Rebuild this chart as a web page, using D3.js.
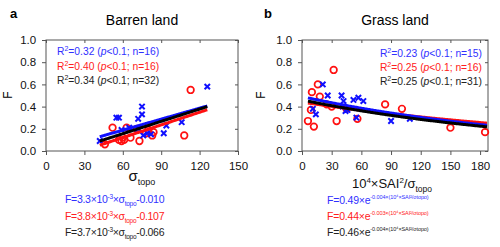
<!DOCTYPE html>
<html><head><meta charset="utf-8">
<script src="https://cdn.jsdelivr.net/npm/d3@7"></script>
<style>body{margin:0;background:#fff}text{font-family:"Liberation Sans",Arial,sans-serif}</style>
</head><body><svg id="c" width="500" height="247"></svg>
<script>
// ---- data ----
const yTicks = [0, 0.2, 0.4, 0.6, 0.8, 1.0];
const aTicks = [0, 30, 60, 90, 120, 150];
const bTicks = [0, 30, 60, 90, 120, 150, 180];

const aBlueX = [42, 55, 57, 59, 65, 72, 72, 75, 75, 76, 79, 82, 92, 94, 106, 126];
const aBlueF = [0.09, 0.30, 0.30, 0.19, 0.21, 0.29, 0.20, 0.40, 0.33, 0.14, 0.16, 0.15, 0.16, 0.23, 0.26, 0.58];
const aRedX = [46, 52, 57, 59, 60, 61, 63, 66, 71, 73, 78, 80, 83, 84, 108, 113];
const aRedF = [0.06, 0.21, 0.10, 0.09, 0.12, 0.10, 0.21, 0.12, 0.20, 0.09, 0.16, 0.19, 0.14, 0.17, 0.14, 0.55];

const bBlueX = [11, 14, 21, 26, 40, 41, 42, 44, 46, 52, 55, 57, 62, 90, 109];
const bBlueF = [0.38, 0.33, 0.60, 0.50, 0.50, 0.40, 0.45, 0.36, 0.37, 0.46, 0.30, 0.48, 0.45, 0.27, 0.29];
const bRedX = [6, 9, 10, 12, 16, 18, 25, 30, 32, 35, 45, 56, 84, 101, 150, 185];
const bRedF = [0.27, 0.37, 0.53, 0.22, 0.60, 0.49, 0.42, 0.40, 0.73, 0.27, 0.38, 0.29, 0.42, 0.38, 0.21, 0.17];

// fits: a linear (slope, intercept), b exponential (a, k)
const aFitSlope = [0.0033, 0.0038, 0.0037];
const aFitInt = [-0.010, -0.107, -0.066];
const bFitA = [0.49, 0.44, 0.46];
const bFitK = [-0.004, -0.003, -0.004];
const fitNames = ["blue", "red", "black"];
const aR2 = ["0.32", "0.40", "0.34"], aN = [16, 16, 32];
const bR2 = ["0.23", "0.25", "0.25"], bN = [15, 16, 31];
const aEqSlope = ["3.3", "3.8", "3.7"], aEqInt = ["-0.010", "-0.107", "-0.066"];
const bEqA = ["0.49", "0.44", "0.46"], bEqK = ["-0.004", "-0.003", "-0.004"];

const COL = {blue: "#1010ff", red: "#ff1010", black: "#000"};
const TXT = {blue: "#3030ff", red: "#ff2020", black: "#222"};
const svg = d3.select("#c");

function panel(o) {
  const x = d3.scaleLinear().domain(o.xdom).range([o.x0, o.x1]);
  const y = d3.scaleLinear().domain([0, 1]).range([151, 40]);
  const g = svg.append("g");
  g.append("rect").attr("x", o.x0).attr("y", 40).attr("width", o.x1 - o.x0).attr("height", 111)
    .attr("fill", "none").attr("stroke", "#555").attr("stroke-width", 1);
  const ax = g.append("g").attr("transform", "translate(0,151)")
    .call(d3.axisBottom(x).tickValues(o.ticks).tickSize(4).tickFormat(d3.format("d")));
  const ay = g.append("g").attr("transform", `translate(${o.x0},0)`)
    .call(d3.axisLeft(y).tickValues(yTicks).tickSize(4).tickFormat(d3.format(".1f")));
  g.append("g").attr("transform", "translate(0,40)")
    .call(d3.axisTop(x).tickValues(o.ticks).tickSize(-3).tickFormat(""));
  g.append("g").attr("transform", `translate(${o.x1},0)`)
    .call(d3.axisRight(y).tickValues(yTicks).tickSize(-3).tickFormat(""));
  g.selectAll(".domain").remove();
  g.selectAll(".tick line").attr("stroke", "#555");
  ax.selectAll("text").attr("font-size", 11.5).attr("fill", "#111").attr("dy", "1.05em");
  ay.selectAll("text").attr("font-size", 11.5).attr("fill", "#111").attr("dx", "-0.25em");

  o.redX.forEach((v, i) => {
    g.append("circle").attr("cx", x(v)).attr("cy", y(o.redF[i])).attr("r", 3.3)
      .attr("fill", "none").attr("stroke", COL.red).attr("stroke-width", 1.7);
  });
  o.blueX.forEach((v, i) => {
    const cx = x(v), cy = y(o.blueF[i]), s = 2.7;
    g.append("path").attr("d", `M${cx-s},${cy-s}L${cx+s},${cy+s}M${cx-s},${cy+s}L${cx+s},${cy-s}`)
      .attr("stroke", COL.blue).attr("stroke-width", 2);
  });
  const line = d3.line().x(d => x(d[0])).y(d => y(d[1]));
  [1, 0, 2].forEach(i => {
    const pts = d3.range(o.lr[0], o.lr[1] + 0.01, 1).map(v => [v, o.fit(i, v)]);
    g.append("path").attr("d", line(pts)).attr("fill", "none")
      .attr("stroke", COL[fitNames[i]]).attr("stroke-width", 3);
  });
  return {x, y};
}

panel({x0: 46, x1: 238, xdom: [0, 150], ticks: aTicks, redX: aRedX, redF: aRedF, blueX: aBlueX, blueF: aBlueF,
  lr: [42, 126], fit: (i, v) => aFitSlope[i] * v + aFitInt[i]});
panel({x0: 302, x1: 488, xdom: [0, 188], ticks: bTicks, redX: bRedX, redF: bRedF, blueX: bBlueX, blueF: bBlueF,
  lr: [6, 187], fit: (i, v) => bFitA[i] * Math.exp(bFitK[i] * v)});

svg.append("text").attr("x", 10).attr("y", 18).attr("font-size", 13).attr("font-weight", "bold").text("a");
svg.append("text").attr("x", 264).attr("y", 18).attr("font-size", 13).attr("font-weight", "bold").text("b");
svg.append("text").attr("x", 142).attr("y", 25).attr("text-anchor", "middle").attr("font-size", 14).text("Barren land");
svg.append("text").attr("x", 395).attr("y", 25).attr("text-anchor", "middle").attr("font-size", 14).text("Grass land");
[[12, 95], [265, 95]].forEach(p => svg.append("text").attr("transform", `translate(${p[0]},${p[1]}) rotate(-90)`)
  .attr("text-anchor", "middle").attr("font-size", 12).text("F"));

const xa = svg.append("text").attr("x", 142).attr("y", 181).attr("text-anchor", "middle").attr("font-size", 15).attr("fill", "#111");
xa.append("tspan").text("σ");
xa.append("tspan").attr("font-size", 9).attr("dy", 4).text("topo");
const xb = svg.append("text").attr("x", 392).attr("y", 188).attr("text-anchor", "middle").attr("font-size", 13).attr("fill", "#111");
xb.append("tspan").text("10");
xb.append("tspan").attr("font-size", 8).attr("dy", -5).text("4");
xb.append("tspan").attr("dy", 5).text("×SAI");
xb.append("tspan").attr("font-size", 8).attr("dy", -5).text("2");
xb.append("tspan").attr("dy", 5).text("/σ");
xb.append("tspan").attr("font-size", 8.5).attr("dy", 4).text("topo");

function legend(tx, ty, anchor, r2, n, i) {
  const t = svg.append("text").attr("x", tx).attr("y", ty).attr("text-anchor", anchor)
    .attr("font-size", 10.3).attr("fill", TXT[fitNames[i]]);
  t.append("tspan").text("R");
  t.append("tspan").attr("font-size", 7).attr("dy", -4).text("2");
  t.append("tspan").attr("dy", 4).text(`=${r2[i]} (`);
  t.append("tspan").attr("font-style", "italic").text("p");
  t.append("tspan").text(`<0.1; n=${n[i]})`);
}
[0, 1, 2].forEach(i => legend(57, 55 + i * 14.5, "start", aR2, aN, i));
[0, 1, 2].forEach(i => legend(482, 57 + i * 14, "end", bR2, bN, i));

[0, 1, 2].forEach(i => {
  const t = svg.append("text").attr("x", 65).attr("y", 203 + i * 16.7).attr("font-size", 10.5)
    .attr("fill", TXT[fitNames[i]]).attr("letter-spacing", -0.3);
  t.append("tspan").text(`F=${aEqSlope[i]}×10`);
  t.append("tspan").attr("font-size", 6.5).attr("dy", -4).text("-3");
  t.append("tspan").attr("dy", 4).text("×σ");
  t.append("tspan").attr("font-size", 6.5).attr("dy", 3).text("topo");
  t.append("tspan").attr("dy", -3).text(aEqInt[i]);
});
[0, 1, 2].forEach(i => {
  const t = svg.append("text").attr("x", 327).attr("y", 204 + i * 16).attr("font-size", 10.5)
    .attr("fill", TXT[fitNames[i]]).attr("letter-spacing", -0.2);
  t.append("tspan").text(`F=${bEqA[i]}×e`);
  t.append("tspan").attr("font-size", 5.5).attr("dy", -5).attr("letter-spacing", -0.1)
    .text(`${bEqK[i]}×(10⁴×SAI²/σtopo)`);
});
</script></body></html>
